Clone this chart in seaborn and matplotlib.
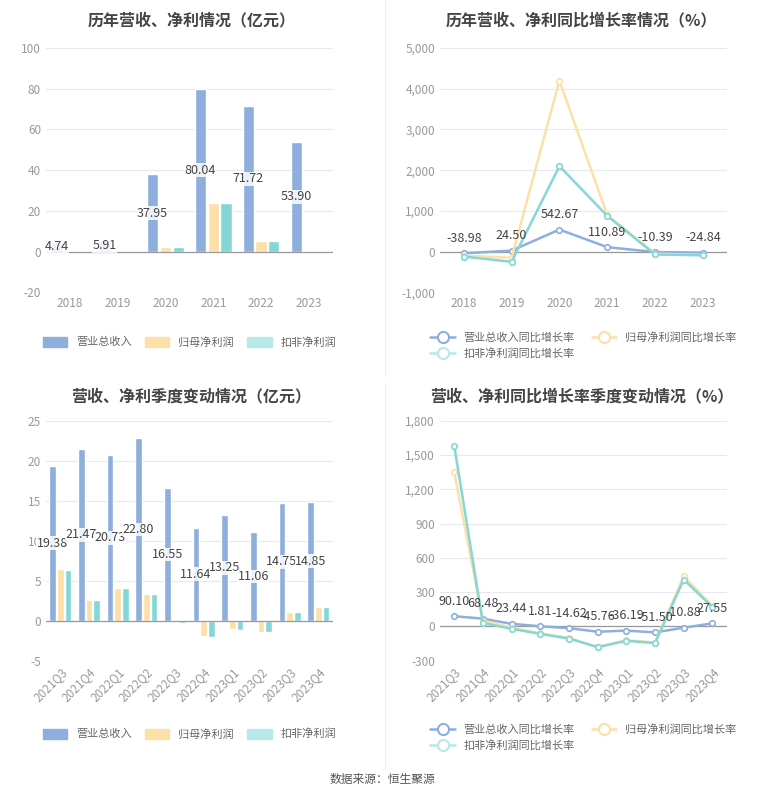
import matplotlib
matplotlib.use("Agg")
import matplotlib.pyplot as plt
import seaborn as sns
import numpy as np
import pandas as pd
from matplotlib.ticker import FuncFormatter

sns.set_theme(style="white")
plt.rcParams['font.family'] = ['Noto Sans CJK SC', 'DejaVu Sans']
plt.rcParams['axes.unicode_minus'] = False

years = ["2018", "2019", "2020", "2021", "2022", "2023"]
rev = [4.74, 5.91, 37.95, 80.04, 71.72, 53.90]
net = [0.05, 0.05, 2.5, 24.0, 5.0, 0.05]
ded = [0.05, 0.05, 2.3, 24.0, 5.0, 0.05]
rev_g = [-38.98, 24.50, 542.67, 110.89, -10.39, -24.84]
net_g = [-100, -150, 4200, 900, -50, -80]
ded_g = [-120, -250, 2100, 880, -70, -90]

quarters = ["2021Q3", "2021Q4", "2022Q1", "2022Q2", "2022Q3", "2022Q4", "2023Q1", "2023Q2", "2023Q3", "2023Q4"]
q_rev = [19.38, 21.47, 20.73, 22.80, 16.55, 11.64, 13.25, 11.06, 14.75, 14.85]
q_net = [6.5, 2.6, 4.1, 3.4, -0.2, -1.9, -1.0, -1.4, 1.1, 1.7]
q_ded = [6.4, 2.6, 4.1, 3.3, -0.3, -2.0, -1.1, -1.4, 1.1, 1.7]
q_rev_g = [90.10, 68.48, 23.44, 1.81, -14.62, -45.76, -36.19, -51.50, -10.88, 27.55]
q_net_g = [1350, 50, -10, -60, -100, -180, -120, -140, 440, 180]
q_ded_g = [1580, 30, -20, -65, -105, -180, -125, -145, 410, 170]

C1, C2, C3 = "#8eaedd", "#fddfa8", "#85d6d6"
C3b = "#b8e8e8"
bar_names = ["营业总收入", "归母净利润", "扣非净利润"]
line_names = ["营业总收入同比增长率", "归母净利润同比增长率", "扣非净利润同比增长率"]

fig = plt.figure(figsize=(7.65, 8.01), dpi=100)
axes = [fig.add_axes([0.06, 0.635, 0.375, 0.305]),
        fig.add_axes([0.575, 0.635, 0.375, 0.305]),
        fig.add_axes([0.06, 0.175, 0.375, 0.3]),
        fig.add_axes([0.575, 0.175, 0.375, 0.3])]

def style(ax, ylim, yticks, fmt=None):
    ax.set_ylim(*ylim)
    ax.set_yticks(yticks)
    if fmt:
        ax.yaxis.set_major_formatter(FuncFormatter(fmt))
    ax.grid(axis='y', color='#e6e9f2', lw=0.8)
    ax.set_axisbelow(True)
    for s in ["top", "right", "left", "bottom"]:
        ax.spines[s].set_visible(False)
    ax.axhline(0, color='#999999', lw=0.9, zorder=1)
    ax.tick_params(axis='both', colors='#999999', labelsize=8.5, length=0)
    ax.set_xlabel(""); ax.set_ylabel("")

def rotate(ax, rot):
    ax.tick_params(axis='x', rotation=rot)
    if rot:
        for t in ax.get_xticklabels():
            t.set_ha('right'); t.set_rotation_mode('anchor')

def bars(ax, cats, a, b, c, rot):
    df = pd.DataFrame({"cat": cats * 3, "v": a + b + c,
                       "s": sum([[n] * len(cats) for n in bar_names], [])})
    sns.barplot(data=df, x="cat", y="v", hue="s", palette=[C1, C2, C3], ax=ax,
                width=0.8, gap=0.12, saturation=1, legend=False)
    for i, v in enumerate(a):
        ax.text(i - 0.27, v / 2, f"{v:.2f}", ha='center', va='center', fontsize=9, color='#444444',
                bbox=dict(facecolor='white', edgecolor='none', pad=0.3, alpha=0.85))
    rotate(ax, rot)
    h = [plt.Rectangle((0, 0), 1, 1, color=c_) for c_ in [C1, C2, C3b]]
    ax.legend(h, bar_names, loc='upper center', bbox_to_anchor=(0.5, -0.14 if not rot else -0.24),
              ncol=3, frameon=False, fontsize=8, handlelength=2.2, handleheight=1.0,
              labelcolor='#666666', columnspacing=1.2)

def lines(ax, cats, a, b, c, rot, yr):
    x = np.arange(len(cats))
    for ys, col in zip([a, b, c], [C1, C2, C3]):
        sns.lineplot(x=x, y=ys, ax=ax, color=col, lw=1.8, marker='o', markersize=4,
                     markerfacecolor='white', markeredgecolor=col, markeredgewidth=1.2)
    ax.set_xticks(x); ax.set_xticklabels(cats)
    ax.set_xlim(-0.5, len(cats) - 0.5)
    for i, v in enumerate(a):
        ax.text(i, v + yr * 0.035, f"{v:.2f}",
                ha='center', va='bottom', fontsize=9, color='#444444')
    rotate(ax, rot)
    cols = [C1, C2, C3b]
    h = [plt.Line2D([], [], color=c_, lw=1.8, marker='o', markersize=8, markerfacecolor='white',
                    markeredgewidth=1.5) for c_ in cols]
    order = [0, 2, 1]
    ax.legend([h[i] for i in order], [line_names[i] for i in order], loc='upper center',
              bbox_to_anchor=(0.5, -0.12 if not rot else -0.22),
              ncol=2, frameon=False, fontsize=8, handlelength=2.2, labelcolor='#666666',
              columnspacing=1.5)

comma = lambda v, p: f"{int(v):,}"

bars(axes[0], years, rev, net, ded, 0)
style(axes[0], (-20, 100), range(-20, 101, 20))
lines(axes[1], years, rev_g, net_g, ded_g, 0, 6000)
style(axes[1], (-1000, 5000), range(-1000, 5001, 1000), comma)
bars(axes[2], quarters, q_rev, q_net, q_ded, 45)
style(axes[2], (-5, 25), range(-5, 26, 5))
lines(axes[3], quarters, q_rev_g, q_net_g, q_ded_g, 45, 2100)
style(axes[3], (-300, 1800), range(-300, 1801, 300), comma)

titles = ["历年营收、净利情况（亿元）", "历年营收、净利同比增长率情况（%）",
          "营收、净利季度变动情况（亿元）", "营收、净利同比增长率季度变动情况（%）"]
pos = [(0.25, 0.975), (0.76, 0.975), (0.25, 0.505), (0.76, 0.505)]
for t, (x, y) in zip(titles, pos):
    fig.text(x, y, t, ha='center', va='center', fontsize=11.5, fontweight='bold', color='#444444')

fig.add_artist(plt.Line2D([0.503, 0.503], [0.53, 1.0], color='#eeeeee', lw=0.8))
fig.add_artist(plt.Line2D([0.503, 0.503], [0.04, 0.52], color='#eeeeee', lw=0.8))
fig.text(0.5, 0.022, "数据来源：恒生聚源", ha='center', fontsize=8.5, color='#555555')

fig.savefig("out.png", dpi=100, facecolor='white')
